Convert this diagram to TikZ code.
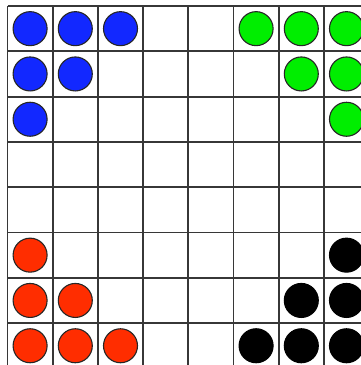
\documentclass[tikz,border=0pt]{standalone}
\definecolor{pblue}{RGB}{18,40,255}
\definecolor{pgreen}{RGB}{0,238,0}
\definecolor{pred}{RGB}{255,45,0}
\definecolor{gridc}{RGB}{55,55,55}
\begin{document}
\begin{tikzpicture}[x=1pt,y=-1pt,
  gridline/.style={draw=gridc,line width=1.8pt},
  piece/.style={circle,minimum size=34pt,inner sep=0pt,draw=black!85,line width=1.1pt},
  bluep/.style={piece,fill=pblue},
  greenp/.style={piece,fill=pgreen},
  redp/.style={piece,fill=pred},
  blackp/.style={piece,fill=black,draw=black}]
\useasboundingbox (0,0) rectangle (361,365);
\fill[white] (0,0) rectangle (361,365);
\foreach \k in {0,...,8} {
  \draw[gridline] ({7.5+45.2*\k},6) -- ({7.5+45.2*\k},368.4);
  \draw[gridline] (7.5,{6+45.3*\k}) -- (369.1,{6+45.3*\k});
}
\foreach \c/\r/\s [count=\i] in {0/0/bluep,1/0/bluep,2/0/bluep,0/1/bluep,1/1/bluep,0/2/bluep,
  5/0/greenp,6/0/greenp,7/0/greenp,6/1/greenp,7/1/greenp,7/2/greenp,
  0/5/redp,0/6/redp,1/6/redp,0/7/redp,1/7/redp,2/7/redp,
  7/5/blackp,6/6/blackp,7/6/blackp,5/7/blackp,6/7/blackp,7/7/blackp} {
  \node[\s] (p\i) at ({7.5+45.2*(\c+0.5)},{6+45.3*(\r+0.5)}) {};
}
\end{tikzpicture}
\end{document}
